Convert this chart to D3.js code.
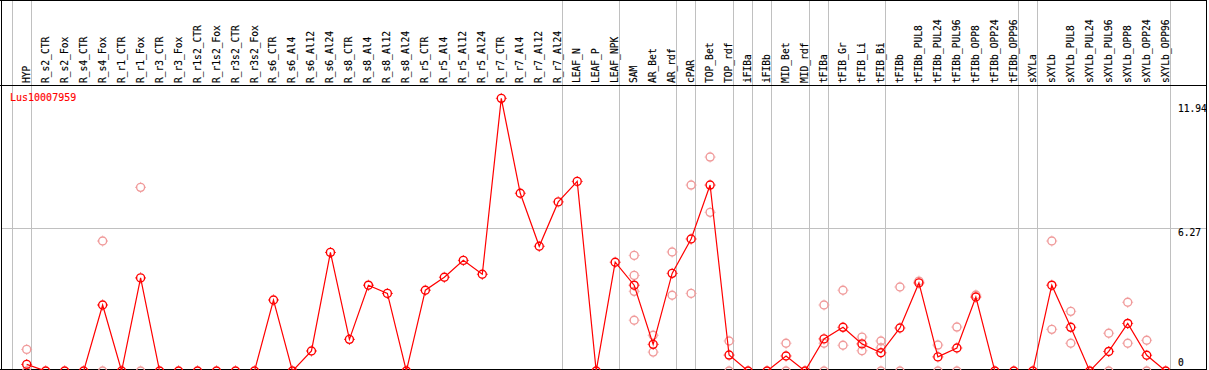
<!DOCTYPE html>
<html><head><meta charset="utf-8">
<script src="https://cdn.jsdelivr.net/npm/d3@7"></script>
<style>body{margin:0;background:#fff}svg{display:block}</style>
</head><body>
<svg id="c" width="1209" height="370"></svg>
<script>
const categories = ["HYP","R_s2_CTR","R_s2_Fox","R_s4_CTR","R_s4_Fox","R_r1_CTR","R_r1_Fox","R_r3_CTR","R_r3_Fox","R_r1s2_CTR","R_r1s2_Fox","R_r3s2_CTR","R_r3s2_Fox","R_s6_CTR","R_s6_Al4","R_s6_Al12","R_s6_Al24","R_s8_CTR","R_s8_Al4","R_s8_Al12","R_s8_Al24","R_r5_CTR","R_r5_Al4","R_r5_Al12","R_r5_Al24","R_r7_CTR","R_r7_Al4","R_r7_Al12","R_r7_Al24","LEAF_N","LEAF_P","LEAF_NPK","SAM","AR_Bet","AR_rdf","cPAR","TOP_Bet","TOP_rdf","iFIBa","iFIBb","MID_Bet","MID_rdf","tFIBa","tFIB_Gr","tFIB_Li","tFIB_Bi","tFIBb","tFIBb_PUL8","tFIBb_PUL24","tFIBb_PUL96","tFIBb_OPP8","tFIBb_OPP24","tFIBb_OPP96","sXYLa","sXYLb","sXYLb_PUL8","sXYLb_PUL24","sXYLb_PUL96","sXYLb_OPP8","sXYLb_OPP24","sXYLb_OPP96"];
const means = [0.29,0,0,0,2.90,0,4.09,0,0,0,0,0,0,3.12,0,0.88,5.21,1.39,3.77,3.41,0,3.55,4.12,4.86,4.25,11.98,7.81,5.48,7.43,8.33,0,4.78,3.77,1.17,4.29,5.80,8.17,0.70,0,0,0.66,0,1.41,1.92,1.19,0.80,1.89,3.87,0.62,1.01,3.25,0,0,0,3.77,1.92,0,0.86,2.09,0.69,0];
const replicates = {
  "HYP":[0.95,0], "R_s4_Fox":[5.71,0], "R_r1_Fox":[8.07,0],
  "SAM":[5.08,4.20,3.50,2.23], "AR_Bet":[1.57,0.83], "AR_rdf":[5.23,3.33],
  "cPAR":[8.17,3.41], "TOP_Bet":[9.40,6.97], "TOP_rdf":[1.32,0], "MID_Bet":[1.22,0],
  "tFIBa":[2.90,1.22,0], "tFIB_Gr":[3.55,1.13], "tFIB_Li":[1.49,0.89], "tFIB_Bi":[1.32,1.02,0],
  "tFIBb":[3.69,0], "tFIBb_PUL8":[3.95], "tFIBb_PUL24":[1.14,0], "tFIBb_PUL96":[1.93,0],
  "tFIBb_OPP8":[3.34], "sXYLb":[5.71,1.83], "sXYLb_PUL8":[2.62,1.22], "sXYLb_PUL96":[1.66,0],
  "sXYLb_OPP8":[3.02,1.22], "sXYLb_OPP24":[1.35,0]
};
const groupEnds = [-1,0,28,31,34,35,37,38,39,41,42,45,52,53,60];
const tickValues = [11.94, 6.27, 0];
const tickLabels = ["11.94","6.27","0"];
const gridValues = [6.27];
const geneName = "Lus10007959";

const svg = d3.select("#c");
const font = "'DejaVu Sans Mono', monospace";
const x = d3.scaleLinear().domain([0, categories.length-1]).range([26.7, 1165.7]);
const y = d3.scaleLinear().domain([0, 6.27]).range([371, 228.3]);

// horizontal gridlines
svg.selectAll("line.hg").data(gridValues).enter().append("line")
  .attr("x1",1).attr("x2",1206).attr("y1",d=>Math.round(y(d))+0.5).attr("y2",d=>Math.round(y(d))+0.5)
  .attr("stroke","#c0c0c0").attr("stroke-width",1);
// vertical group separators
svg.selectAll("line.vg").data(groupEnds).enter().append("line")
  .attr("x1",d=>Math.round(x(d)+4)+0.5).attr("x2",d=>Math.round(x(d)+4)+0.5)
  .attr("y1",0).attr("y2",369).attr("stroke","#c0c0c0").attr("stroke-width",1);

// frame
svg.append("line").attr("x1",0).attr("x2",1207).attr("y1",0.5).attr("y2",0.5).attr("stroke","#000");
svg.append("line").attr("x1",0).attr("x2",1207).attr("y1",85.5).attr("y2",85.5).attr("stroke","#000");
svg.append("line").attr("x1",0).attr("x2",1207).attr("y1",369.5).attr("y2",369.5).attr("stroke","#000");
svg.append("line").attr("x1",1.5).attr("x2",1.5).attr("y1",0).attr("y2",370).attr("stroke","#000");
svg.append("line").attr("x1",1206.5).attr("x2",1206.5).attr("y1",0).attr("y2",370).attr("stroke","#000");

// category labels
svg.selectAll("text.cat").data(categories).enter().append("text")
  .attr("transform",(d,i)=>`translate(${x(i)+3},83) rotate(-90)`)
  .attr("font-family",font).attr("font-size","9.6px").attr("fill","#000")
  .attr("stroke","#000").attr("stroke-width",0.15)
  .text(d=>d);

// tick labels
const tickDy = [12.5, 8, -5];
svg.selectAll("text.tk").data(tickValues).enter().append("text")
  .attr("x",1178).attr("y",(d,i)=>y(d)+tickDy[i])
  .attr("font-family",font).attr("font-size","9.6px").attr("fill","#000")
  .attr("stroke","#000").attr("stroke-width",0.15)
  .text((d,i)=>tickLabels[i]);

// gene name
svg.append("text").attr("x",10).attr("y",100.5).attr("font-family",font)
  .attr("font-size","10px").attr("fill","#ff0000").attr("stroke","#ff0000").attr("stroke-width",0.15)
  .text(geneName);

function marker(g, cx, cy, color){
  g.append("circle").attr("cx",cx).attr("cy",cy).attr("r",4).attr("fill","none")
    .attr("stroke",color).attr("stroke-width",1.4);
  [[0,-1],[0,1],[-1,0],[1,0]].forEach(([dx,dy])=>{
    g.append("line").attr("x1",cx+dx*4.6).attr("y1",cy+dy*4.6)
      .attr("x2",cx+dx*5.4).attr("y2",cy+dy*5.4).attr("stroke",color).attr("stroke-width",1);
  });
}

// replicate points
const rep = svg.append("g");
categories.forEach((c,i)=>{
  (replicates[c]||[]).forEach(v=>marker(rep, x(i), y(v), "#f09a9a"));
});

// mean line
svg.append("path").datum(means)
  .attr("d", d3.line().x((d,i)=>x(i)).y(d=>y(d)))
  .attr("fill","none").attr("stroke","#ff0000").attr("stroke-width",1.2);
const mg = svg.append("g");
means.forEach((v,i)=>marker(mg, x(i), y(v), "#ff0000"));
</script>
</body></html>
